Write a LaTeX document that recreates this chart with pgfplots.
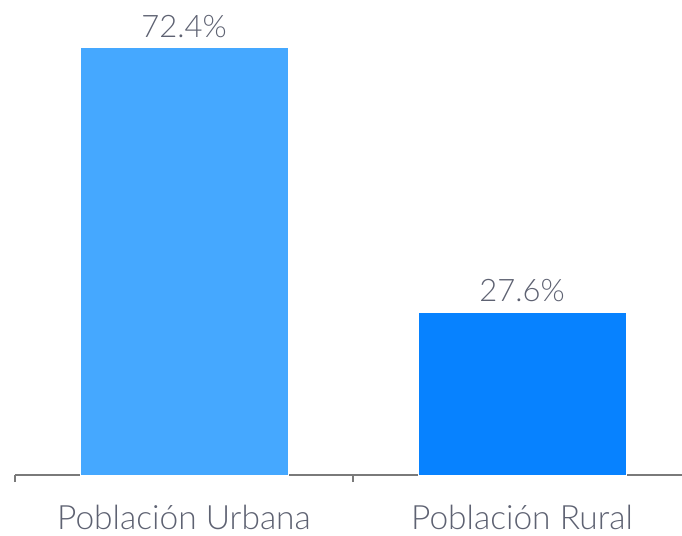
\documentclass[border=0pt]{standalone}
\usepackage{pgfplots}
\pgfplotsset{compat=1.18}
\usepackage{fontspec}
\setmainfont{Lato}[UprightFont=* Light]
\definecolor{barA}{HTML}{45A8FF}
\definecolor{barB}{HTML}{0782FF}
\definecolor{txt}{HTML}{5E6272}
\definecolor{axl}{HTML}{7A7A7A}
\begin{document}
\begin{tikzpicture}
\begin{axis}[
  scale only axis,
  width=676pt, height=475pt,
  xmin=-0.5, xmax=1.5,
  ymin=0, ymax=80.4,
  axis x line*=bottom,
  axis y line=none,
  x axis line style={axl, line width=1.5pt, -},
  xtick={0,1},
  xticklabels={Población Urbana, Población Rural},
  major tick length=0pt,
  minor xtick={-0.5,0.5,1.5},
  minor tick length=7pt,
  minor tick style={axl, line width=1.2pt},
  tick align=outside,
  /pgf/number format/assume math mode=true,
  xticklabel style={font=\fontsize{33.5}{36}\selectfont, text=txt, inner sep=0pt, text depth=0pt, yshift=-30pt},
  ybar, bar width=208pt, bar shift=0pt,
  nodes near coords={\pgfmathprintnumber[fixed,precision=1,fixed zerofill,assume math mode=true]{\pgfplotspointmeta}\%},
  nodes near coords style={font=\fontsize{31}{33}\selectfont, text=txt, yshift=6pt},
  clip=false,
]
\addplot[fill=barA, draw=white, line width=0.8pt] coordinates {(0,72.4)};
\addplot[fill=barB, draw=white, line width=0.8pt] coordinates {(1,27.6)};
\end{axis}
\pgfresetboundingbox
\path (-15pt,-60pt) rectangle (667pt,475pt);
\end{tikzpicture}
\end{document}
